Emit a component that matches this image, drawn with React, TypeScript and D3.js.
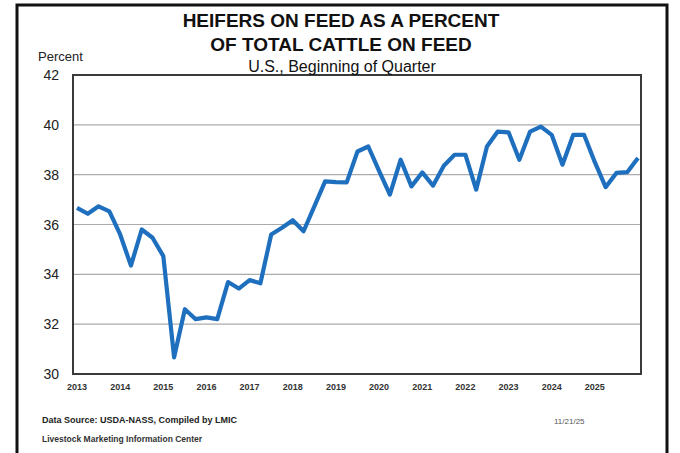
import React, { useRef, useEffect } from "react";
import * as d3 from "d3";

// tick labels on the x axis (one per year, at the Q1 point)
const yearLabels = [
  "2013", "2014", "2015", "2016", "2017", "2018", "2019",
  "2020", "2021", "2022", "2023", "2024", "2025",
];

// quarterly categories, 2013 Q1 .. 2026 Q1
const quarters = [...yearLabels, "2026"].flatMap((y) => ["Q1", "Q2", "Q3", "Q4"].map((q) => `${y}-${q}`)).slice(0, 53);

// heifers on feed, percent of total cattle on feed
const heiferPct = [
  36.67, 36.43, 36.73, 36.53,
  35.6, 34.35, 35.8, 35.47,
  34.73, 30.67, 32.6, 32.2,
  32.27, 32.2, 33.69, 33.43,
  33.77, 33.64, 35.6, 35.87,
  36.17, 35.73, 36.73, 37.73,
  37.7, 37.69, 38.93, 39.13,
  38.15, 37.2, 38.6, 37.53,
  38.09, 37.56, 38.36, 38.8,
  38.8, 37.4, 39.13, 39.73,
  39.7, 38.6, 39.73, 39.93,
  39.6, 38.4, 39.6, 39.6,
  38.5, 37.5, 38.07, 38.1,
  38.67,
];

const yTicks = [30, 32, 34, 36, 38, 40, 42];

const App = () => {
  const svgRef = useRef<SVGSVGElement>(null);
  const width = 680;
  const height = 453;

  useEffect(() => {
    const svg = d3.select(svgRef.current);
    svg.selectAll("*").remove();

    const plot = { left: 73, right: 641, top: 75, bottom: 374 };
    const font = "'Liberation Sans', Arial, sans-serif";

    svg.append("rect").attr("width", width).attr("height", height).attr("fill", "#fff");

    // outer frame
    svg
      .append("rect")
      .attr("x", 17)
      .attr("y", 5)
      .attr("width", 650)
      .attr("height", 470)
      .attr("fill", "none")
      .attr("stroke", "#111")
      .attr("stroke-width", 3);

    const x = d3.scaleLinear().domain([0, quarters.length - 1]).range([77, 638]);
    const y = d3.scaleLinear().domain([30, 42]).range([plot.bottom, plot.top]);

    // gridlines
    svg
      .append("g")
      .selectAll("line")
      .data(yTicks.slice(1, -1))
      .join("line")
      .attr("x1", plot.left)
      .attr("x2", plot.right)
      .attr("y1", (d) => y(d))
      .attr("y2", (d) => y(d))
      .attr("stroke", "#ababab")
      .attr("stroke-width", 1.2);

    // plot frame
    svg
      .append("rect")
      .attr("x", plot.left)
      .attr("y", plot.top)
      .attr("width", plot.right - plot.left)
      .attr("height", plot.bottom - plot.top)
      .attr("fill", "none")
      .attr("stroke", "#3a3a3a")
      .attr("stroke-width", 2);

    // y tick labels
    svg
      .append("g")
      .selectAll("text")
      .data(yTicks)
      .join("text")
      .attr("x", 59)
      .attr("y", (d) => y(d) + 5)
      .attr("text-anchor", "end")
      .attr("font-family", font)
      .attr("font-size", 14)
      .attr("fill", "#222")
      .text((d) => d);

    // x tick labels
    svg
      .append("g")
      .selectAll("text")
      .data(yearLabels)
      .join("text")
      .attr("x", (d, i) => x(i * 4))
      .attr("y", 390)
      .attr("text-anchor", "middle")
      .attr("font-family", "'Liberation Sans Narrow', " + font)
      .attr("font-size", 9)
      .attr("font-weight", "bold")
      .attr("fill", "#333")
      .text((d) => d);

    // data line
    const line = d3
      .line<number>()
      .x((d, i) => x(i))
      .y((d) => y(d));

    svg
      .append("path")
      .datum(heiferPct)
      .attr("d", line)
      .attr("fill", "none")
      .attr("stroke", "#1f6fbf")
      .attr("stroke-width", 4.2)
      .attr("stroke-linejoin", "round");

    // titles
    const title = svg.append("g").attr("font-family", font).attr("fill", "#111").attr("text-anchor", "middle");
    title.append("text").attr("x", 341).attr("y", 27).attr("font-size", 19).attr("font-weight", "bold").text("HEIFERS ON FEED AS A PERCENT");
    title.append("text").attr("x", 341).attr("y", 51).attr("font-size", 19).attr("font-weight", "bold").text("OF TOTAL CATTLE ON FEED");
    title.append("text").attr("x", 342).attr("y", 72).attr("font-size", 16).text("U.S., Beginning of Quarter");

    svg
      .append("text")
      .attr("x", 38)
      .attr("y", 61)
      .attr("font-family", font)
      .attr("font-size", 13)
      .attr("fill", "#222")
      .text("Percent");

    // footer
    svg
      .append("text")
      .attr("x", 42)
      .attr("y", 423)
      .attr("font-family", font)
      .attr("font-size", 9)
      .attr("font-weight", "bold")
      .attr("fill", "#222")
      .text("Data Source:  USDA-NASS, Compiled  by LMIC");

    svg
      .append("text")
      .attr("x", 42)
      .attr("y", 442)
      .attr("font-family", font)
      .attr("font-size", 8.5)
      .attr("font-weight", "bold")
      .attr("fill", "#333")
      .text("Livestock Marketing Information Center");

    svg
      .append("text")
      .attr("x", 554)
      .attr("y", 424)
      .attr("font-family", font)
      .attr("font-size", 8)
      .attr("fill", "#555")
      .text("11/21/25");
  }, []);

  return (
    <svg
      ref={svgRef}
      width={width}
      height={height}
      style={{ position: "absolute", left: 0, top: 0 }}
    ></svg>
  );
};

export default App;
